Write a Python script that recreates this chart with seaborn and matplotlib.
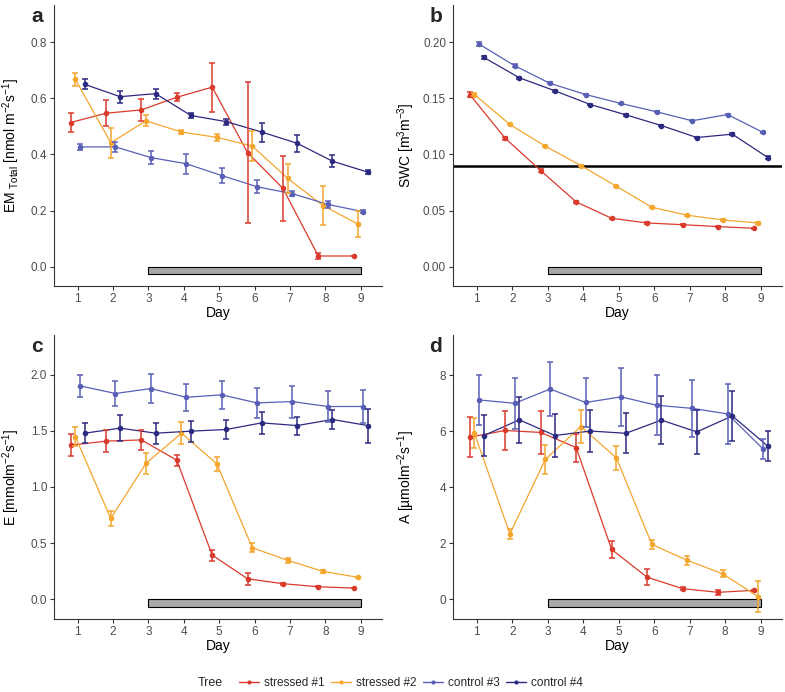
import numpy as np
import pandas as pd
import matplotlib
matplotlib.use("Agg")
import matplotlib.pyplot as plt
from matplotlib.patches import Rectangle
from matplotlib.lines import Line2D
import seaborn as sns

# ---------------- data ----------------
days = [1, 2, 3, 4, 5, 6, 7, 8, 9]
trees = ["stressed #1", "stressed #2", "control #3", "control #4"]
colors = ["#DA3A2C", "#F4A62E", "#5860B6", "#2C2981"]

# Panel a: EM Total
em_s1 = [0.514, 0.547, 0.559, 0.604, 0.640, 0.407, 0.279, 0.038, 0.038]
em_s1_err = [0.035, 0.047, 0.040, 0.014, 0.087, 0.252, 0.117, 0.010, 0.0]
em_s2 = [0.668, 0.442, 0.520, 0.480, 0.461, 0.430, 0.315, 0.218, 0.151]
em_s2_err = [0.023, 0.054, 0.020, 0.006, 0.013, 0.052, 0.052, 0.071, 0.047]
em_c3 = [0.427, 0.427, 0.389, 0.367, 0.325, 0.285, 0.260, 0.222, 0.196]
em_c3_err = [0.011, 0.017, 0.024, 0.035, 0.027, 0.024, 0.008, 0.012, 0.006]
em_c4 = [0.650, 0.606, 0.617, 0.539, 0.517, 0.480, 0.440, 0.376, 0.337]
em_c4_err = [0.018, 0.021, 0.018, 0.008, 0.011, 0.034, 0.030, 0.021, 0.006]

# Panel b: SWC
swc_s1 = [0.1533, 0.1144, 0.0856, 0.0577, 0.0431, 0.0389, 0.0374, 0.0357, 0.0342]
swc_s1_err = [0.002, 0.0015, 0.001, 0.0008, 0.0006, 0.0005, 0.0005, 0.0005, 0.0005]
swc_s2 = [0.1533, 0.1266, 0.1073, 0.0900, 0.0716, 0.0529, 0.0458, 0.0416, 0.0389]
swc_s2_err = [0.001, 0.0008, 0.0006, 0.0005, 0.0006, 0.0006, 0.0005, 0.0005, 0.0005]
swc_c3 = [0.1982, 0.1789, 0.1632, 0.1533, 0.1453, 0.1379, 0.1299, 0.1355, 0.1195]
swc_c3_err = [0.002, 0.0015, 0.0008, 0.0006, 0.0005, 0.0006, 0.0006, 0.0008, 0.0008]
swc_c4 = [0.1863, 0.1682, 0.1566, 0.1444, 0.1352, 0.1257, 0.1150, 0.1180, 0.0972]
swc_c4_err = [0.0015, 0.0008, 0.0008, 0.0008, 0.0008, 0.0008, 0.0008, 0.0008, 0.0015]
swc_threshold = 0.09

# Panel c: E
e_s1 = [1.373, 1.409, 1.420, 1.239, 0.392, 0.181, 0.137, 0.110, 0.098]
e_s1_err = [0.100, 0.098, 0.088, 0.048, 0.050, 0.052, 0.010, 0.006, 0.0]
e_s2 = [1.450, 0.719, 1.212, 1.480, 1.207, 0.458, 0.345, 0.247, 0.193]
e_s2_err = [0.085, 0.065, 0.093, 0.097, 0.062, 0.040, 0.025, 0.015, 0.008]
e_c3 = [1.902, 1.834, 1.878, 1.800, 1.822, 1.750, 1.762, 1.718, 1.718]
e_c3_err = [0.095, 0.112, 0.128, 0.120, 0.122, 0.132, 0.143, 0.134, 0.144]
e_c4 = [1.480, 1.525, 1.480, 1.498, 1.513, 1.572, 1.548, 1.602, 1.548]
e_c4_err = [0.092, 0.113, 0.095, 0.095, 0.086, 0.095, 0.080, 0.088, 0.152]

# Panel d: A
a_s1 = [5.78, 6.02, 5.95, 5.41, 1.77, 0.78, 0.37, 0.24, 0.31]
a_s1_err = [0.71, 0.69, 0.77, 0.50, 0.29, 0.28, 0.05, 0.09, 0.03]
a_s2 = [5.92, 2.33, 4.99, 6.16, 5.04, 1.95, 1.38, 0.90, 0.08]
a_s2_err = [0.53, 0.17, 0.52, 0.58, 0.42, 0.17, 0.17, 0.12, 0.56]
a_c3 = [7.11, 6.99, 7.50, 7.02, 7.22, 6.92, 6.81, 6.61, 5.36]
a_c3_err = [0.89, 0.91, 0.95, 0.89, 1.04, 1.07, 1.02, 1.07, 0.35]
a_c4 = [5.84, 6.40, 5.84, 6.00, 5.92, 6.39, 5.97, 6.54, 5.46]
a_c4_err = [0.72, 0.82, 0.78, 0.76, 0.71, 0.86, 0.79, 0.89, 0.54]

treatment_start, treatment_end = 3, 9

# ---------------- style ----------------
sns.set_theme(style="ticks")
plt.rcParams["font.family"] = ["Liberation Sans", "DejaVu Sans"]
plt.rcParams["mathtext.default"] = "regular"
plt.rcParams["axes.linewidth"] = 0.8
plt.rcParams["xtick.major.width"] = 0.8
plt.rcParams["ytick.major.width"] = 0.8
plt.rcParams["xtick.major.size"] = 3
plt.rcParams["ytick.major.size"] = 3

W, H = 785, 692
fig = plt.figure(figsize=(W / 100, H / 100), dpi=100)

def px_axes(left, top, right, bottom):
    return fig.add_axes([left / W, 1 - bottom / H, (right - left) / W, (bottom - top) / H])

dodge = dict(zip(trees, [-0.2, -0.067, 0.067, 0.2]))
palette = dict(zip(trees, colors))

panels = [
    dict(letter="a", box=(54, 5, 382, 286),
         series=[(em_s1, em_s1_err), (em_s2, em_s2_err), (em_c3, em_c3_err), (em_c4, em_c4_err)],
         ylim=(-0.069, 0.933), yticks=[0.0, 0.2, 0.4, 0.6, 0.8], fmt="{:.1f}", bar=0.026,
         ylabel=r"EM $_{Total}$ [nmol m$^{-2}$s$^{-1}$]", labx=-0.098),
    dict(letter="b", box=(453, 5, 782, 286),
         series=[(swc_s1, swc_s1_err), (swc_s2, swc_s2_err), (swc_c3, swc_c3_err), (swc_c4, swc_c4_err)],
         ylim=(-0.0172, 0.233), yticks=[0.0, 0.05, 0.10, 0.15, 0.20], fmt="{:.2f}", bar=0.0068,
         ylabel=r"SWC [m$^{3}$m$^{-3}$]", labx=-0.108),
    dict(letter="c", box=(54, 335, 382, 619),
         series=[(e_s1, e_s1_err), (e_s2, e_s2_err), (e_c3, e_c3_err), (e_c4, e_c4_err)],
         ylim=(-0.178, 2.356), yticks=[0.0, 0.5, 1.0, 1.5, 2.0], fmt="{:.1f}", bar=0.07,
         ylabel=r"E [mmolm$^{-2}$s$^{-1}$]", labx=-0.098),
    dict(letter="d", box=(453, 335, 782, 619),
         series=[(a_s1, a_s1_err), (a_s2, a_s2_err), (a_c3, a_c3_err), (a_c4, a_c4_err)],
         ylim=(-0.713, 9.43), yticks=[0, 2, 4, 6, 8], fmt="{:.0f}", bar=0.27,
         ylabel=r"A [µmolm$^{-2}$s$^{-1}$]", labx=-0.108),
]

for p in panels:
    l, t, r, b = p["box"]
    ax = px_axes(l, t, r, b)
    rows = []
    for tree, (vals, errs) in zip(trees, p["series"]):
        for d, v, e in zip(days, vals, errs):
            rows.append(dict(tree=tree, day=d, x=d + dodge[tree], value=v, err=e))
    df = pd.DataFrame(rows)

    # treatment bar
    ax.add_patch(Rectangle((treatment_start, -p["bar"]), treatment_end - treatment_start, p["bar"],
                           facecolor="#A8A8A8", edgecolor="black", linewidth=0.8, zorder=1))
    if p["letter"] == "b":
        ax.axhline(swc_threshold, color="black", linewidth=1.8, zorder=1)

    sns.lineplot(data=df, x="x", y="value", hue="tree", palette=palette, hue_order=trees,
                 marker="o", markersize=4, markeredgewidth=0, linewidth=0.9,
                 legend=False, ax=ax, zorder=3)
    for tree in trees:
        sub = df[df.tree == tree]
        ax.errorbar(sub.x, sub.value, yerr=sub.err, fmt="none", ecolor=palette[tree],
                    elinewidth=1.1, capsize=2.3, capthick=1.1, zorder=3)

    ax.set_xlim(0.33, 9.6)
    ax.set_ylim(*p["ylim"])
    ax.set_xticks(days)
    ax.set_xticklabels([str(d) for d in days])
    ax.set_yticks(p["yticks"])
    ax.set_yticklabels([p["fmt"].format(v) for v in p["yticks"]])
    ax.tick_params(axis="both", labelsize=8.5, colors="#333333", labelcolor="#4D4D4D", pad=2)
    for s in ["top", "right"]:
        ax.spines[s].set_visible(False)
    for s in ["left", "bottom"]:
        ax.spines[s].set_color("#333333")
    ax.set_xlabel("Day", fontsize=10, color="black", labelpad=1)
    ax.set_ylabel(p["ylabel"], fontsize=10, color="black")
    ax.yaxis.set_label_coords(p["labx"], 0.5)
    fig.text((l - 17) / W, 1 - (t + 12) / H, p["letter"], fontsize=15, fontweight="bold",
             ha="center", va="center")

# legend
handles = [Line2D([0], [0], color=c, marker="o", markersize=3, markeredgewidth=0, linewidth=1)
           for c in colors]
fig.legend(handles, trees, loc="center", bbox_to_anchor=(411 / W, 1 - 683 / H), ncol=4,
           frameon=False, fontsize=8.5, handlelength=1.7, handletextpad=0.45, columnspacing=0.5)
fig.text(198 / W, 1 - 683 / H, "Tree", fontsize=9, ha="left", va="center")

fig.savefig("out.png", dpi=100)
